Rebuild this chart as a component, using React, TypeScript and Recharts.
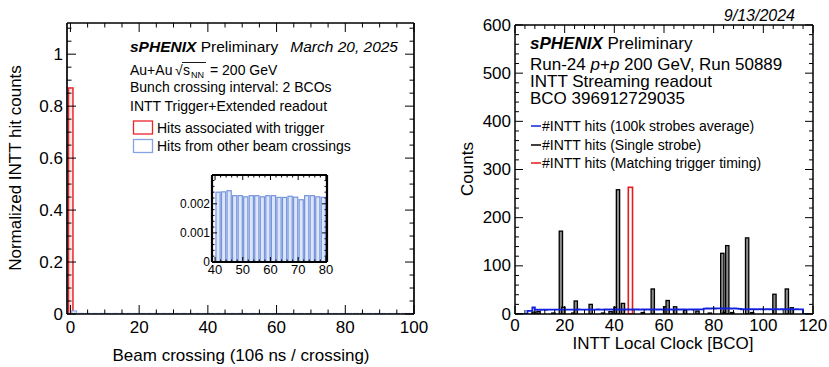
import { ComposedChart, Bar, Line, XAxis, YAxis } from 'recharts'

const FONT = '"Liberation Sans", Arial, Helvetica, sans-serif'

// ---- left panel: normalized INTT hit counts vs beam crossing
const triggerCrossing = [0]
const triggerHits = [0.87]
const otherCrossing = [
  1, 3, 5, 7, 9, 11, 13, 15, 17, 19, 21, 23, 25, 27, 29, 31, 33, 35, 37, 39,
  41, 43, 45, 47, 49, 51, 53, 55, 57, 59, 61, 63, 65, 67, 69, 71, 73, 75, 77, 79,
  81, 83, 85, 87, 89, 91, 93, 95, 97, 99,
]
const otherHits = [
  0.0120, 0.0026, 0.0025, 0.0024, 0.0024, 0.0023, 0.0024, 0.0023, 0.0023, 0.0024,
  0.0023, 0.0023, 0.0024, 0.0023, 0.0023, 0.0023, 0.0024, 0.0023, 0.0023, 0.0023,
  0.00240, 0.00241, 0.00245, 0.00228, 0.00228, 0.00224, 0.00228, 0.00228, 0.00224, 0.00228,
  0.00228, 0.00222, 0.00222, 0.00226, 0.00223, 0.00214, 0.00228, 0.00228, 0.00224, 0.00222,
  0.0023, 0.0022, 0.0023, 0.0022, 0.0023, 0.0022, 0.0022, 0.0023, 0.0022, 0.0022,
]
const leftXTicks = [0, 5, 10, 15, 20, 25, 30, 35, 40, 45, 50, 55, 60, 65, 70, 75, 80, 85, 90, 95, 100]
const leftXMajor = [0, 20, 40, 60, 80, 100]
const leftYTicks = [0, 0.05, 0.1, 0.15, 0.2, 0.25, 0.3, 0.35, 0.4, 0.45, 0.5, 0.55, 0.6, 0.65, 0.7, 0.75, 0.8, 0.85, 0.9, 0.95, 1, 1.05, 1.1]
const leftYMajor = [0, 0.2, 0.4, 0.6, 0.8, 1]
const insetXTicks = [40, 42, 44, 46, 48, 50, 52, 54, 56, 58, 60, 62, 64, 66, 68, 70, 72, 74, 76, 78, 80]
const insetXMajor = [40, 50, 60, 70, 80]
const insetYTicks = [0, 0.0002, 0.0004, 0.0006, 0.0008, 0.001, 0.0012, 0.0014, 0.0016, 0.0018, 0.002, 0.0022, 0.0024, 0.0026, 0.0028]
const insetYMajor = [0, 0.001, 0.002]

// ---- right panel: single strobe hit counts vs INTT local clock
const strobeBco = [7, 9, 15, 18, 19, 23, 24, 30, 35, 38, 40, 41, 43, 51, 55, 60, 61, 64, 68, 73, 78, 83, 84, 85, 87, 93, 95, 104, 109, 111]
const strobeHits = [4, 5, 2, 172, 14, 2, 27, 20, 2, 5, 14, 258, 22, 3, 52, 15, 28, 15, 8, 6, 2, 126, 3, 142, 3, 158, 3, 41, 52, 13]
const matchBco = [46]
const matchHits = [263]
// 100k strobe average, one value per BCO bin 0..119
const avgHits = [
  0, 0, 0, 0, 0, 6.5, 6.5, 13.5, 9,
  8.6, 8.8, 8.9, 8.8, 9.0, 8.9, 9.1, 9.0, 8.9, 9.1, 9.0, 9.2,
  9.1, 9.0, 9.2, 9.1, 9.3, 9.1, 9.0, 9.2, 9.1, 9.3, 9.2, 9.1, 9.3, 9.2, 9.1, 9.3, 9.2, 9.4, 9.2, 9.3,
  9.3, 9.4, 9.2, 9.3, 9.4, 9.2, 9.3, 9.4, 9.3, 9.2, 9.4, 9.3, 9.4, 9.2, 9.3, 9.4, 9.3, 9.4, 9.2, 9.4,
  9.3, 9.4, 9.2, 9.3, 9.4, 9.3, 9.4, 9.3, 9.2, 9.4, 9.3, 9.4, 9.3, 9.4, 9.4,
  11.2, 11.4, 11.3, 11.5, 11.4, 11.6, 11.5, 11.4, 11.6, 11.5, 11.4, 11.3, 11.5, 11.2, 10.8,
  9.9, 10.0, 9.8, 9.9, 10.0, 9.9, 9.8, 10.0, 9.9, 9.8, 10.0, 9.9, 9.8, 9.9, 10.0, 9.8, 9.9, 10.0, 9.8, 9.9, 10.0, 9.8, 9.9, 9.7, 9.6,
  0, 0, 0, 0,
]
const rightXTicks = [0, 4, 8, 12, 16, 20, 24, 28, 32, 36, 40, 44, 48, 52, 56, 60, 64, 68, 72, 76, 80, 84, 88, 92, 96, 100, 104, 108, 112, 116, 120]
const rightXMajor = [0, 20, 40, 60, 80, 100, 120]
const rightYTicks = [0, 20, 40, 60, 80, 100, 120, 140, 160, 180, 200, 220, 240, 260, 280, 300, 320, 340, 360, 380, 400, 420, 440, 460, 480, 500, 520, 540, 560, 580, 600]
const rightYMajor = [0, 100, 200, 300, 400, 500, 600]

const leftRows = [
  ...triggerCrossing.map((x, i) => ({ x, trig: triggerHits[i] })),
  ...otherCrossing.map((x, i) => ({ x, other: otherHits[i] })),
]
const insetRows = otherCrossing.map((x, i) => ({ x, other: otherHits[i] })).filter(r => r.x > 40 && r.x < 80)
const rightRows = [
  ...strobeBco.map((b, i) => ({ x: b + 0.5, single: strobeHits[i] })),
  ...matchBco.map((b, i) => ({ x: b + 0.5, match: matchHits[i] })),
].sort((a, b) => a.x - b.x)
const avgRows = [...avgHits.map((v, i) => ({ x: i, avg: v })), { x: 120, avg: 0 }]

type Side = 'bottom' | 'top' | 'left' | 'right'
type TickOpt = { majors: number[]; major: number; minor: number; label?: boolean; size?: number; gap?: number }
const isIn = (v: number, list: number[]) => list.some(m => Math.abs(v - m) < 1e-9)

// ROOT style ticks: drawn inwards from the frame, labels only on major ticks
function frameTick(side: Side, o: TickOpt) {
  return function FrameTick(p: any) {
    const { x, y, payload } = p
    const v: number = payload.value
    const big = isIn(v, o.majors)
    const len = big ? o.major : o.minor
    const gap = o.gap ?? 5
    const dx = side === 'left' ? len : side === 'right' ? -len : 0
    const dy = side === 'bottom' ? -len : side === 'top' ? len : 0
    let label = null
    if (o.label && big) {
      label = side === 'bottom'
        ? <text x={x} y={y + gap} textAnchor="middle" dominantBaseline="central" fontSize={o.size} fontFamily={FONT} fill="#000">{String(v)}</text>
        : <text x={x - gap} y={y} textAnchor="end" dominantBaseline="central" fontSize={o.size} fontFamily={FONT} fill="#000">{String(v)}</text>
    }
    return (
      <g>
        <line x1={x} y1={y} x2={x + dx} y2={y + dy} stroke="#000" strokeWidth={1} />
        {label}
      </g>
    )
  }
}

// histogram bin: fixed pixel width, centred on the scaled x of the bin
function histBar(stroke: string, fill: string, w: number, sw: number) {
  return function HistBar(p: any) {
    const { x, y, width, height } = p
    if (!(Math.abs(height) > 0.01)) return <g />
    const cx = x + width / 2
    return <rect x={cx - w / 2} y={y} width={w} height={height} stroke={stroke} fill={fill} strokeWidth={sw} />
  }
}

const axisCommon = { type: 'number' as const, interval: 0 as const, tickSize: 0, tickMargin: 0, tickLine: false, allowDataOverflow: true }

function LeftPanel() {
  const frame = { stroke: '#000', strokeWidth: 1.7 }
  return (
    <ComposedChart width={440} height={367} data={leftRows} margin={{ top: 22, right: 25, bottom: 0, left: 0 }}>
      <XAxis xAxisId="b" dataKey="x" {...axisCommon} domain={[-1, 100]} ticks={leftXTicks} height={53} axisLine={frame}
        tick={frameTick('bottom', { majors: leftXMajor, major: 9, minor: 4.5, label: true, size: 17, gap: 13 })} />
      <XAxis xAxisId="t" orientation="top" dataKey="x" {...axisCommon} domain={[-1, 100]} ticks={leftXTicks} height={1} axisLine={frame}
        tick={frameTick('top', { majors: leftXMajor, major: 9, minor: 4.5 })} />
      <YAxis yAxisId="l" {...axisCommon} domain={[0, 1.12]} ticks={leftYTicks} width={67} axisLine={frame}
        tick={frameTick('left', { majors: leftYMajor, major: 9, minor: 4.5, label: true, size: 17, gap: 4 })} />
      <YAxis yAxisId="r" orientation="right" {...axisCommon} domain={[0, 1.12]} ticks={leftYTicks} width={1} axisLine={frame}
        tick={frameTick('right', { majors: leftYMajor, major: 9, minor: 4.5 })} />
      <Bar xAxisId="b" yAxisId="l" dataKey="trig" stackId="h" barSize={2} isAnimationActive={false}
        shape={histBar('#e8262b', '#fde8e8', 4.5, 1.5)} />
      <Bar xAxisId="b" yAxisId="l" dataKey="other" stackId="h" barSize={2} isAnimationActive={false}
        shape={histBar('#86a3e3', '#dbe4f7', 5, 1)} />
      <Line xAxisId="t" yAxisId="r" dataKey="trig" stroke="none" dot={false} legendType="none" isAnimationActive={false} />
    </ComposedChart>
  )
}

function InsetPanel() {
  const frame = { stroke: '#000', strokeWidth: 2.2 }
  return (
    <ComposedChart width={180} height={120} data={insetRows} margin={{ top: 9, right: 12, bottom: 0, left: 0 }}>
      <XAxis xAxisId="b" dataKey="x" {...axisCommon} domain={[38.9, 80.4]} ticks={insetXTicks} height={23} axisLine={frame}
        tick={frameTick('bottom', { majors: insetXMajor, major: 5, minor: 2.5, label: true, size: 13, gap: 7.5 })} />
      <XAxis xAxisId="t" orientation="top" dataKey="x" {...axisCommon} domain={[38.9, 80.4]} ticks={insetXTicks} height={1} axisLine={frame}
        tick={frameTick('top', { majors: insetXMajor, major: 5, minor: 2.5 })} />
      <YAxis yAxisId="l" {...axisCommon} domain={[0, 0.00299]} ticks={insetYTicks} width={52} axisLine={frame}
        tick={frameTick('left', { majors: insetYMajor, major: 5, minor: 2.5, label: true, size: 12, gap: 2 })} />
      <YAxis yAxisId="r" orientation="right" {...axisCommon} domain={[0, 0.00299]} ticks={insetYTicks} width={1} axisLine={frame}
        tick={frameTick('right', { majors: insetYMajor, major: 5, minor: 2.5 })} />
      <Bar xAxisId="b" yAxisId="l" dataKey="other" barSize={2} isAnimationActive={false}
        shape={histBar('#7594dc', '#dde6f8', 4.2, 1.2)} />
      <Line xAxisId="t" yAxisId="r" dataKey="other" stroke="none" dot={false} legendType="none" isAnimationActive={false} />
    </ComposedChart>
  )
}

function RightPanel() {
  const frame = { stroke: '#000', strokeWidth: 1.5 }
  return (
    <ComposedChart width={409} height={367} data={rightRows} margin={{ top: 24, right: 15, bottom: 0, left: 0 }}>
      <XAxis xAxisId="b" dataKey="x" {...axisCommon} domain={[0, 120]} ticks={rightXTicks} height={53} axisLine={frame}
        tick={frameTick('bottom', { majors: rightXMajor, major: 8, minor: 4, label: true, size: 17, gap: 11 })} />
      <XAxis xAxisId="t" orientation="top" dataKey="x" {...axisCommon} domain={[0, 120]} ticks={rightXTicks} height={1} axisLine={frame}
        tick={frameTick('top', { majors: rightXMajor, major: 8, minor: 4 })} />
      <YAxis yAxisId="l" {...axisCommon} domain={[0, 600]} ticks={rightYTicks} width={95} axisLine={frame}
        tick={frameTick('left', { majors: rightYMajor, major: 8, minor: 4, label: true, size: 17, gap: 4 })} />
      <YAxis yAxisId="r" orientation="right" {...axisCommon} domain={[0, 600]} ticks={rightYTicks} width={1} axisLine={frame}
        tick={frameTick('right', { majors: rightYMajor, major: 8, minor: 4 })} />
      <Bar xAxisId="b" yAxisId="l" dataKey="single" stackId="h" barSize={2} isAnimationActive={false}
        shape={histBar('#000', '#8c8c8c', 3.3, 1.3)} />
      <Bar xAxisId="b" yAxisId="l" dataKey="match" stackId="h" barSize={2} isAnimationActive={false}
        shape={histBar('#e41a1c', '#fff', 4.2, 1.6)} />
      <Line xAxisId="b" yAxisId="l" data={avgRows} dataKey="avg" type="stepAfter" stroke="#1020e0" strokeWidth={1.8}
        dot={false} isAnimationActive={false} />
      <Line xAxisId="t" yAxisId="r" dataKey="single" stroke="none" dot={false} legendType="none" isAnimationActive={false} />
    </ComposedChart>
  )
}

function Annotations() {
  const t = { fontFamily: FONT, fill: '#000' }
  return (
    <svg width={829} height={367} style={{ position: 'absolute', left: 0, top: 0, pointerEvents: 'none' }}>
      {/* left panel */}
      <text x={130} y={52} fontSize={15.5} {...t}>
        <tspan fontWeight="bold" fontStyle="italic">sPHENIX</tspan> Preliminary
      </text>
      <text x={398} y={52} fontSize={15.5} fontStyle="italic" textAnchor="end" {...t}>March 20, 2025</text>
      <text y={75} fontSize={14} {...t}>
        <tspan x={130}>Au+Au</tspan>
        <tspan x={175}>√</tspan>
        <tspan x={183}>s</tspan>
        <tspan x={191} dy={3} fontSize={9}>NN</tspan>
        <tspan x={210} dy={-3}>= 200 GeV</tspan>
      </text>
      <line x1={182} y1={62.5} x2={206} y2={62.5} stroke="#000" strokeWidth={0.9} />
      <text x={130} y={92} fontSize={14} {...t}>Bunch crossing interval: 2 BCOs</text>
      <text x={130} y={111} fontSize={14} {...t}>INTT Trigger+Extended readout</text>
      <rect x={133.5} y={121} width={19} height={13} fill="none" stroke="#e8262b" strokeWidth={1.3} />
      <text x={157} y={128} fontSize={14} dominantBaseline="central" {...t}>Hits associated with trigger</text>
      <rect x={133.5} y={139.5} width={19} height={13} fill="none" stroke="#86a3e3" strokeWidth={1.3} />
      <text x={157} y={146} fontSize={14} dominantBaseline="central" {...t}>Hits from other beam crossings</text>
      <text transform="translate(15,168) rotate(-90)" fontSize={17} textAnchor="middle" dominantBaseline="central" {...t}>Normalized INTT hit counts</text>
      <text x={241} y={355} fontSize={17} textAnchor="middle" dominantBaseline="central" {...t}>Beam crossing (106 ns / crossing)</text>

      {/* right panel */}
      <text x={795} y={21} fontSize={16} fontStyle="italic" textAnchor="end" {...t}>9/13/2024</text>
      <text x={530} y={49} fontSize={17} {...t}>
        <tspan fontWeight="bold" fontStyle="italic">sPHENIX</tspan> Preliminary
      </text>
      <text x={530} y={70} fontSize={17} {...t}>
        Run-24 <tspan fontStyle="italic">p</tspan>+<tspan fontStyle="italic">p</tspan> 200 GeV, Run 50889
      </text>
      <text x={530} y={87} fontSize={17} {...t}>INTT Streaming readout</text>
      <text x={530} y={104} fontSize={17} {...t}>BCO 396912729035</text>
      <line x1={531} y1={126} x2={541} y2={126} stroke="#1020e0" strokeWidth={1.5} />
      <text x={542} y={126} fontSize={14} dominantBaseline="central" {...t}>#INTT hits (100k strobes average)</text>
      <line x1={531} y1={145} x2={541} y2={145} stroke="#000" strokeWidth={1.5} />
      <text x={542} y={145} fontSize={14} dominantBaseline="central" {...t}>#INTT hits (Single strobe)</text>
      <line x1={531} y1={163} x2={541} y2={163} stroke="#e41a1c" strokeWidth={1.5} />
      <text x={542} y={163} fontSize={14} dominantBaseline="central" {...t}>#INTT hits (Matching trigger timing)</text>
      <text transform="translate(467,169) rotate(-90)" fontSize={17} textAnchor="middle" dominantBaseline="central" {...t}>Counts</text>
      <text x={663} y={343} fontSize={17} textAnchor="middle" dominantBaseline="central" {...t}>INTT Local Clock [BCO]</text>
    </svg>
  )
}

export default function App() {
  return (
    <div style={{ position: 'relative', width: 829, height: 367, background: '#fff', fontFamily: FONT }}>
      <style>{'body { margin: 0; }'}</style>
      <div style={{ position: 'absolute', left: 0, top: 0 }}><LeftPanel /></div>
      <div style={{ position: 'absolute', left: 160, top: 165 }}><InsetPanel /></div>
      <div style={{ position: 'absolute', left: 420, top: 0 }}><RightPanel /></div>
      <Annotations />
    </div>
  )
}
